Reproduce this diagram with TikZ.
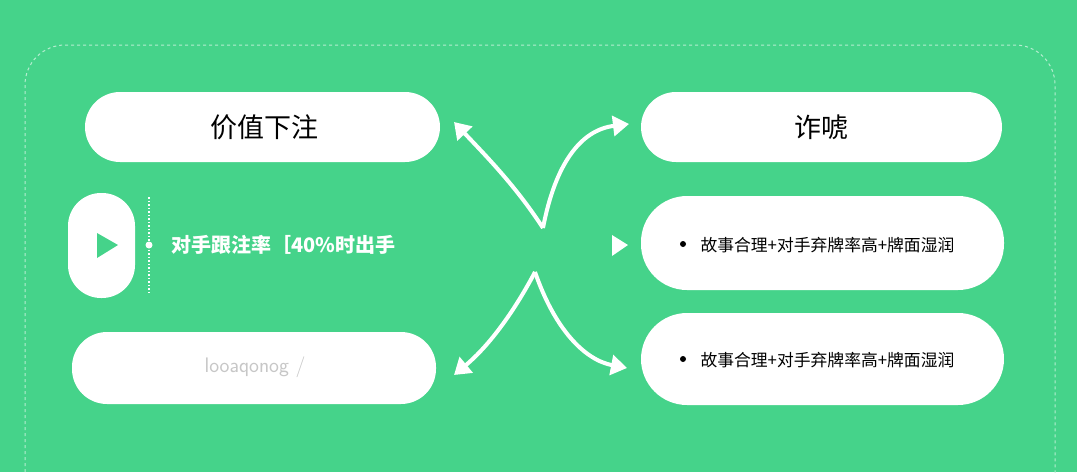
\documentclass[tikz,border=0pt]{standalone}
\usepackage{fontspec}
\newfontfamily\cjk{Noto Sans CJK SC}
\usetikzlibrary{arrows.meta}
\definecolor{bg}{HTML}{45D38A}
\begin{document}
\begin{tikzpicture}[x=1pt,y=-1pt,
  pill/.style={fill=white,rounded corners=35,draw=none},
  arr/.style={white,line width=4,-{Triangle[length=16,width=20]}},
  bul/.style={font=\cjk\fontsize{16.8}{16}\selectfont,anchor=west}]
\useasboundingbox (0,0) rectangle (1077,472);
\fill[bg] (0,0) rectangle (1077,472);
\draw[white!60!bg,dashed,line width=1,rounded corners=40] (25,490) -- (25,45) -- (1055,45) -- (1055,490);
% pills
\fill[pill] (85,92) rectangle (440,162);
\node[font=\cjk\fontsize{27}{27}\selectfont] (p1) at (264,127) {价值下注};
\fill[pill] (641,92) rectangle (1002,162);
\node[font=\cjk\fontsize{27}{27}\selectfont] (p2) at (821,127) {诈唬};
\fill[white,rounded corners=33] (68,193) rectangle (135,298);
\fill[bg] (97,233) -- (118,245) -- (97,258) -- cycle;
\draw[white,line width=1.5,dotted] (149,197) -- (149,295);
\fill[white] (149,245) circle (3.5);
\node[font=\cjk\bfseries\fontsize{20}{20}\selectfont,text=white,anchor=west] (t1) at (168,245) {对手跟注率［40\%时出手};
\fill[pill] (72,332) rectangle (436,404);
\node[font=\sffamily\fontsize{21}{21}\selectfont,text=black!22] (t2) at (255,367) {looaqonog /};
\fill[white,rounded corners=46] (641,196) rectangle (1004,290);
\fill[black] (683,244) circle (3);
\node[bul] (b1) at (697,245) {故事合理+对手弃牌率高+牌面湿润};
\fill[white,rounded corners=46] (641,313) rectangle (1004,405);
\fill[black] (683,359) circle (3);
\node[bul] (b2) at (697,360) {故事合理+对手弃牌率高+牌面湿润};
\fill[white] (612,235) -- (628,245) -- (612,256) -- cycle;
% arrows
\coordinate (c1) at (543,228);
\coordinate (c2) at (535,272);
\coordinate (e1) at (454,122);
\coordinate (e2) at (629,124);
\coordinate (e3) at (454,375);
\coordinate (e4) at (627,368);
\draw[arr] (c1) .. controls (515,185) and (485,155) .. (e1);
\draw[arr] (c1) .. controls (555,165) and (580,130) .. (e2);
\draw[arr] (c2) .. controls (515,310) and (490,345) .. (e3);
\draw[arr] (c2) .. controls (555,330) and (585,360) .. (e4);
\end{tikzpicture}
\end{document}
